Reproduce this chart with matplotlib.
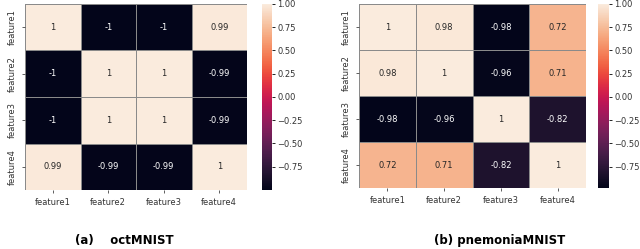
import numpy as np
import matplotlib
matplotlib.use("Agg")
import matplotlib.pyplot as plt
import seaborn as sns

features = ["feature1", "feature2", "feature3", "feature4"]

oct_corr = [
    [1.0, -1.0, -1.0, 0.99],
    [-1.0, 1.0, 1.0, -0.99],
    [-1.0, 1.0, 1.0, -0.99],
    [0.99, -0.99, -0.99, 1.0],
]

pnem_corr = [
    [1.0, 0.98, -0.98, 0.72],
    [0.98, 1.0, -0.96, 0.71],
    [-0.98, -0.96, 1.0, -0.82],
    [0.72, 0.71, -0.82, 1.0],
]

captions = ["(a)    octMNIST", "(b) pnemoniaMNIST"]

fig = plt.figure(figsize=[6.4, 2.49], dpi=100)

# [heatmap axes], [colorbar axes]
layout = [
    ([25 / 640, 59 / 249, 222 / 640, 186 / 249], [262 / 640, 59 / 249, 10 / 640, 186 / 249]),
    ([359 / 640, 61 / 249, 227 / 640, 184 / 249], [598 / 640, 61 / 249, 11 / 640, 184 / 249]),
]
cap_x = [124 / 640, 500 / 640]

for data, cap, (hpos, cpos), cx in zip([oct_corr, pnem_corr], captions, layout, cap_x):
    ax = fig.add_axes(hpos)
    cax = fig.add_axes(cpos)
    sns.heatmap(np.array(data), annot=True, ax=ax, cbar_ax=cax,
                xticklabels=features, yticklabels=features,
                linewidths=0.6, linecolor="#8a8a8a",
                annot_kws={"fontsize": 6})
    ax.tick_params(labelsize=6, length=2.5, width=0.6, colors="#444444",
                   labelcolor="#333333")
    plt.setp(ax.get_xticklabels(), rotation=0, ha="center")
    plt.setp(ax.get_yticklabels(), rotation=90, va="center")
    cax.set_yticks([1.0, 0.75, 0.5, 0.25, 0.0, -0.25, -0.5, -0.75])
    cax.tick_params(labelsize=6, length=2.5, width=0.6, labelcolor="#333333",
                    pad=1.5)
    fig.text(cx, 9 / 249, cap, ha="center", va="center",
             fontsize=8.5, fontweight="bold")

plt.savefig("out.png", dpi=100)
